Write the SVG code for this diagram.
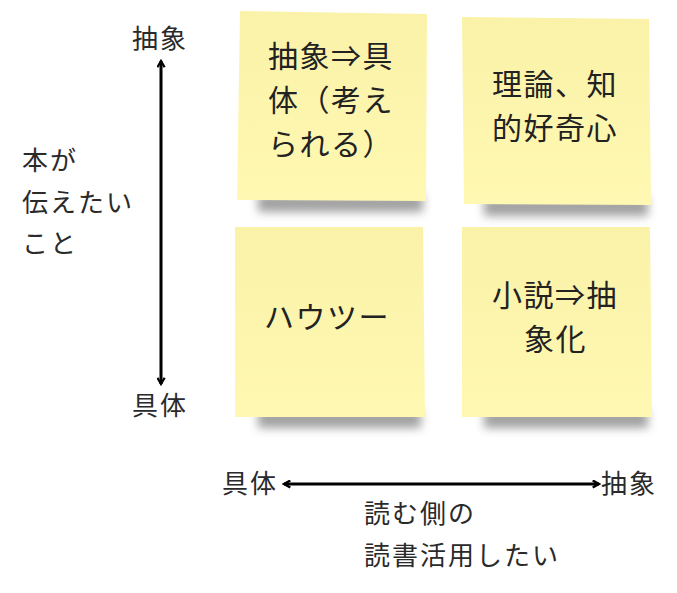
<svg xmlns="http://www.w3.org/2000/svg" width="677" height="593" viewBox="0 0 677 593">
<style>
.lbl{font-family:"Noto Sans CJK JP","Noto Sans",sans-serif;font-size:26px;fill:#2a2a2a;letter-spacing:2px}
.note-t{font-family:"Noto Sans CJK JP","Noto Sans",sans-serif;font-size:30px;fill:#222;letter-spacing:1.5px}
.note{fill:url(#ng)}
.shadow{fill:#444;opacity:0.5;filter:url(#blur)}
.axis{stroke:#000;stroke-width:3;fill:none;marker-start:url(#ah);marker-end:url(#ah)}
</style>
<defs>
<linearGradient id="ng" x1="0" y1="0" x2="0" y2="1">
<stop offset="0" stop-color="#faf2a8"/>
<stop offset="1" stop-color="#fff8b2"/>
</linearGradient>
<filter id="blur" x="-20%" y="-50%" width="140%" height="200%"><feGaussianBlur stdDeviation="5"/></filter>
<marker id="ah" viewBox="0 0 10 10" refX="8" refY="5" markerWidth="3" markerHeight="3" orient="auto-start-reverse">
<path d="M1,1 L8,5 L1,9" stroke="#000" stroke-width="2.5" fill="none"/>
</marker>
</defs>
<g id="note1">
<rect class="shadow" x="258" y="194" width="165" height="18"/>
<polygon class="note" points="240,11 427,14 426,201 237,200"/>
<text class="note-t" x="268" y="67">抽象⇒具</text>
<text class="note-t" x="268" y="111">体（考え</text>
<text class="note-t" x="268" y="155">られる）</text>
</g>
<g id="note2">
<rect class="shadow" x="484" y="198" width="164" height="18"/>
<polygon class="note" points="462,17 649,19 651,205 464,204"/>
<text class="note-t" x="492" y="95">理論、知</text>
<text class="note-t" x="492" y="139">的好奇心</text>
</g>
<g id="note3">
<rect class="shadow" x="258" y="410" width="163" height="18"/>
<polygon class="note" points="235,227 423,227 425,417 235,417"/>
<text class="note-t" x="264" y="328">ハウツー</text>
</g>
<g id="note4">
<rect class="shadow" x="484" y="410" width="164" height="18"/>
<polygon class="note" points="462,227 650,227 652,417 462,417"/>
<text class="note-t" x="492" y="306">小説⇒抽</text>
<text class="note-t" x="524" y="350">象化</text>
</g>
<g id="connectors">
<line class="axis" x1="161" y1="61" x2="161" y2="384"/>
<line class="axis" x1="284" y1="484" x2="599" y2="484"/>
</g>
<g id="labels">
<text class="lbl" x="132" y="48">抽象</text>
<text class="lbl" x="132" y="415">具体</text>
<text class="lbl" x="22" y="170">本が</text>
<text class="lbl" x="22" y="212">伝えたい</text>
<text class="lbl" x="22" y="253">こと</text>
<text class="lbl" x="222" y="493">具体</text>
<text class="lbl" x="601" y="493">抽象</text>
<text class="lbl" x="364" y="523">読む側の</text>
<text class="lbl" x="364" y="565">読書活用したい</text>
</g>
</svg>
